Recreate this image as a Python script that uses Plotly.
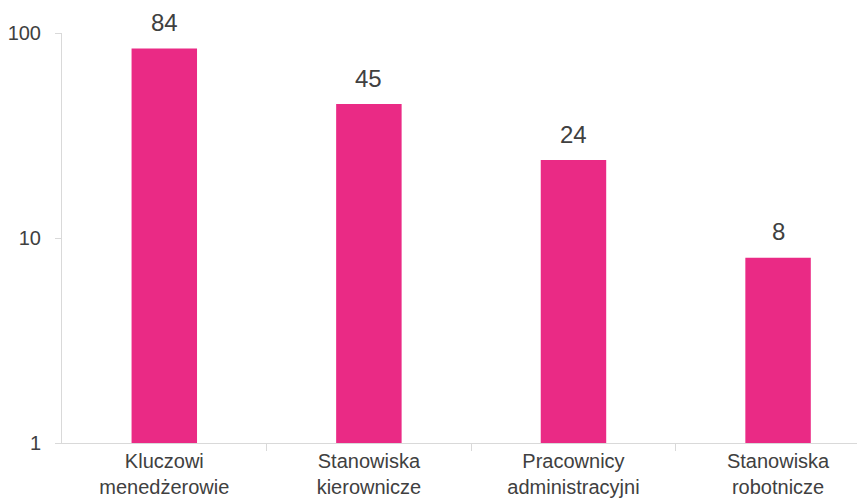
import math
import plotly.graph_objects as go

categories = ["Kluczowi<br>menedżerowie", "Stanowiska<br>kierownicze",
              "Pracownicy<br>administracyjni", "Stanowiska<br>robotnicze"]
values = [84, 45, 24, 8]
y_ticks = [1, 10, 100]

fig = go.Figure(go.Bar(
    x=list(range(len(categories))), y=values, width=0.32,
    marker=dict(color="#EA2A85", line=dict(width=0)),
))

for i, v in enumerate(values):
    fig.add_annotation(
        x=i, y=math.log10(v), xref="x", yref="y", text=str(v), showarrow=False,
        yanchor="middle", yshift=26,
        font=dict(family="Liberation Sans, Arial", size=24, color="#404040"),
    )

fig.update_layout(
    width=865, height=502,
    margin=dict(l=54, r=0, t=25, b=67),
    paper_bgcolor="white", plot_bgcolor="white",
    showlegend=False,
    font=dict(family="Liberation Sans, Arial", color="#404040"),
)
fig.update_xaxes(
    range=[-0.5, 3.464], showgrid=False, showline=True, linecolor="#d9d9d9", linewidth=1,
    tickmode="array", tickvals=list(range(len(categories))), ticktext=categories,
    ticks="", tickfont=dict(size=20, color="#404040"), automargin=False, zeroline=False,
)
fig.update_xaxes(minor=dict(tickmode="array", tickvals=[0.5, 1.5, 2.5],
                            ticks="outside", ticklen=7, tickcolor="#d9d9d9"))
fig.update_yaxes(
    type="log", range=[0, 2], tickvals=y_ticks, ticktext=[str(t) for t in y_ticks],
    showgrid=False, showline=True, linecolor="#d9d9d9", linewidth=1,
    ticks="outside", ticklen=6, tickcolor="#d9d9d9", zeroline=False,
    tickfont=dict(size=20, color="#404040"), ticklabelstandoff=10, automargin=False,
)

fig.write_html("out.html")
